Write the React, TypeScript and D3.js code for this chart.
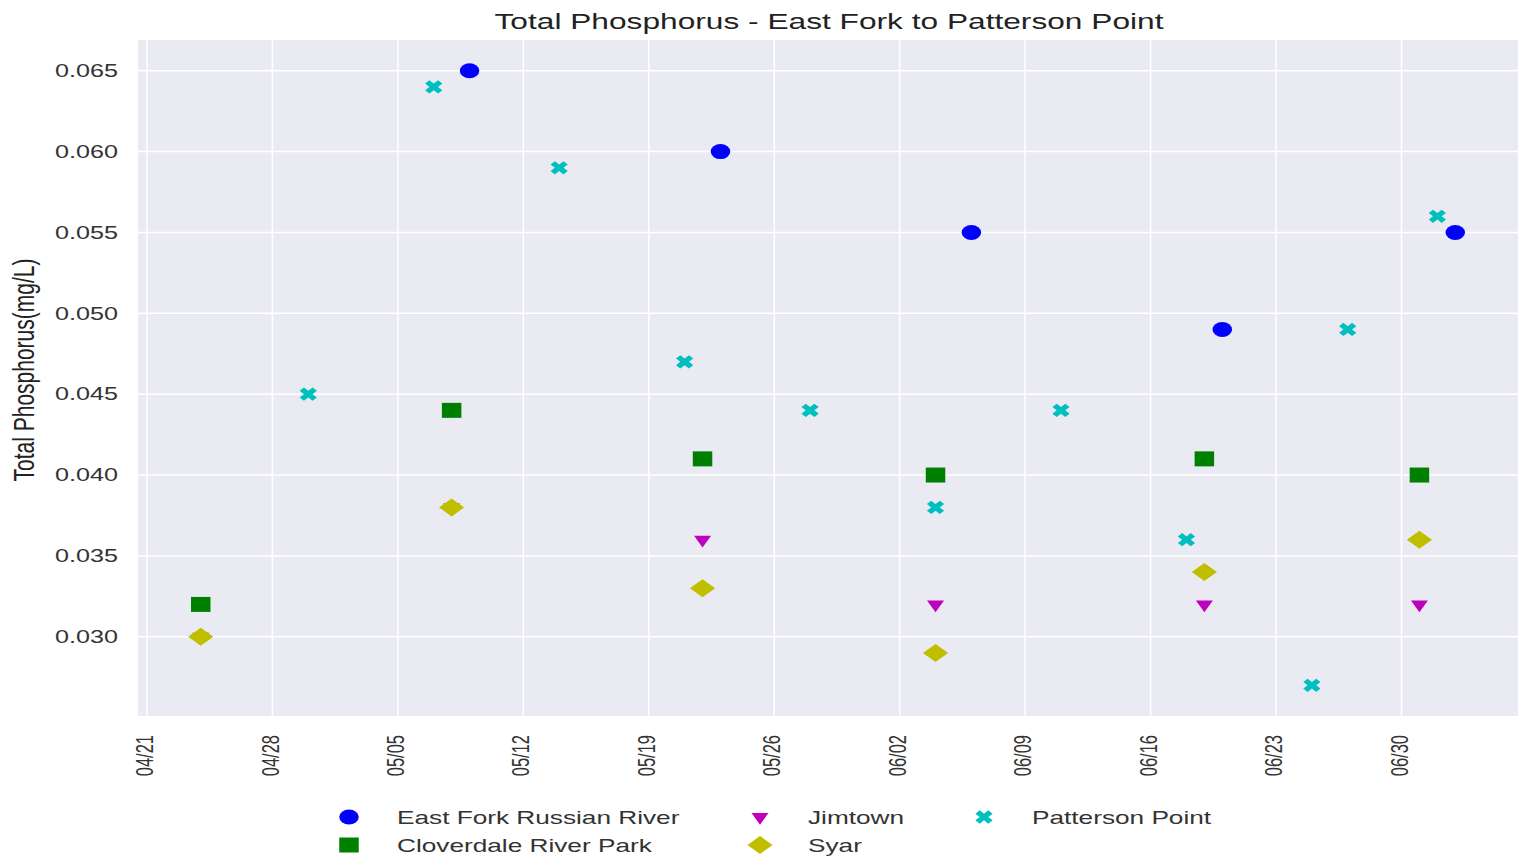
import React from "react";
import * as d3 from "d3";

const eastForkDates = ["2021-05-09", "2021-05-23", "2021-06-06", "2021-06-20", "2021-07-03"];
const eastForkValues = [0.065, 0.06, 0.055, 0.049, 0.055];

const siteDates = ["2021-04-24", "2021-05-08", "2021-05-22", "2021-06-04", "2021-06-19", "2021-07-01"];
const cloverdaleValues = [0.032, 0.044, 0.041, 0.04, 0.041, 0.04];
const jimtownValues = [0.030, 0.038, 0.036, 0.032, 0.032, 0.032];
const syarValues = [0.030, 0.038, 0.033, 0.029, 0.034, 0.036];

const pattersonDates = [
  "2021-04-30", "2021-05-07", "2021-05-14", "2021-05-21", "2021-05-28", "2021-06-04",
  "2021-06-11", "2021-06-18", "2021-06-25", "2021-06-27", "2021-07-02",
];
const pattersonValues = [0.045, 0.064, 0.059, 0.047, 0.044, 0.038, 0.044, 0.036, 0.027, 0.049, 0.056];

const xTickLabels = ["04/21", "04/28", "05/05", "05/12", "05/19", "05/26", "06/02", "06/09", "06/16", "06/23", "06/30"];
const yTicks = [0.03, 0.035, 0.04, 0.045, 0.05, 0.055, 0.06, 0.065];

const parse = d3.timeParse("%Y-%m-%d");

type Marker = "circle" | "square" | "tri" | "diamond" | "x";

const series = [
  { name: "East Fork Russian River", color: "#0000ff", marker: "circle" as Marker, dates: eastForkDates, values: eastForkValues },
  { name: "Cloverdale River Park", color: "#008000", marker: "square" as Marker, dates: siteDates, values: cloverdaleValues },
  { name: "Jimtown", color: "#bf00bf", marker: "tri" as Marker, dates: siteDates, values: jimtownValues },
  { name: "Syar", color: "#bfbf00", marker: "diamond" as Marker, dates: siteDates, values: syarValues },
  { name: "Patterson Point", color: "#00bfbf", marker: "x" as Marker, dates: pattersonDates, values: pattersonValues },
];

// the whole figure looks stretched sideways, so shapes and text get a wider x scale
const SX = 1.4;

function markerPath(m: Marker) {
  if (m === "circle") return d3.symbol(d3.symbolCircle, 177)()!;
  if (m === "square") return d3.symbol(d3.symbolSquare, 225)()!;
  if (m === "tri") return d3.symbol(d3.symbolTriangle, 80)()!;
  if (m === "diamond") return d3.symbol(d3.symbolSquare, 162)()!;
  return d3.symbol(d3.symbolCross, 110)()!;
}

function markerTransform(m: Marker, x: number, y: number) {
  if (m === "tri") return `translate(${x},${y}) scale(1.25,1) rotate(180)`;
  if (m === "diamond") return `translate(${x},${y}) scale(1.4,1) rotate(45)`;
  if (m === "x") return `translate(${x},${y}) scale(1.3,1) rotate(45)`;
  return `translate(${x},${y}) scale(1.3,1)`;
}

export default function App() {
  const width = 1523;
  const height = 865;
  const margin = { left: 138, right: 5, top: 40, bottom: 149 };

  const allDates = series.flatMap((s) => s.dates.map((d) => parse(d)!));
  const allValues = series.flatMap((s) => s.values);
  const [dMin, dMax] = d3.extent(allDates) as [Date, Date];
  const dPad = (dMax.getTime() - dMin.getTime()) * 0.05;
  const [vMin, vMax] = d3.extent(allValues) as [number, number];
  const vPad = (vMax - vMin) * 0.05;

  const x = d3
    .scaleTime()
    .domain([new Date(dMin.getTime() - dPad), new Date(dMax.getTime() + dPad)])
    .range([margin.left, width - margin.right]);
  const y = d3
    .scaleLinear()
    .domain([vMin - vPad, vMax + vPad])
    .range([height - margin.bottom, margin.top]);

  const xTicks = xTickLabels.map((t) => {
    const [mm, dd] = t.split("/");
    return parse(`2021-${mm}-${dd}`)!;
  });

  const legendCols = [
    { mx: 349, tx: 397 },
    { mx: 760, tx: 808 },
    { mx: 984, tx: 1032 },
  ];
  const legendRows = [817, 845];

  return (
    <svg width={width} height={height} style={{ position: "absolute", left: 0, top: 0, fontFamily: "'Liberation Sans', Arial, sans-serif" }}>
      <rect x={0} y={0} width={width} height={height} fill="#fff" />
      <rect
        x={margin.left}
        y={margin.top}
        width={width - margin.left - margin.right}
        height={height - margin.top - margin.bottom}
        fill="#eaeaf2"
      />
      {yTicks.map((t) => (
        <g key={t}>
          <line x1={margin.left} x2={width - margin.right} y1={y(t)} y2={y(t)} stroke="#fff" strokeWidth={1.5} />
          <text transform={`translate(118,${y(t)}) scale(${SX},1)`} dy="0.35em" textAnchor="end" fontSize={18} fill="#333">
            {d3.format(".3f")(t)}
          </text>
        </g>
      ))}
      {xTicks.map((t, i) => (
        <g key={i}>
          <line x1={x(t)} x2={x(t)} y1={margin.top} y2={height - margin.bottom} stroke="#fff" strokeWidth={1.5} />
          <text
            transform={`translate(${x(t) - 2},${height - margin.bottom + 19}) scale(${SX},1) rotate(-90)`}
            dy="0.35em"
            textAnchor="end"
            fontSize={16.5}
            fill="#333"
          >
            {xTickLabels[i]}
          </text>
        </g>
      ))}
      {series.map((s) =>
        s.values.map((v, i) => (
          <path
            key={s.name + i}
            d={markerPath(s.marker)}
            transform={markerTransform(s.marker, x(parse(s.dates[i])!), y(v))}
            fill={s.color}
          />
        ))
      )}
      <text transform={`translate(829,29) scale(1.44,1)`} textAnchor="middle" fontSize={22} fill="#222">
        Total Phosphorus - East Fork to Patterson Point
      </text>
      <text
        transform={`translate(34,370) scale(${SX},1) rotate(-90)`}
        textAnchor="middle"
        fontSize={21}
        fill="#222"
      >
        Total Phosphorus(mg/L)
      </text>
      {series.map((s, i) => {
        const col = legendCols[Math.floor(i / 2)];
        const row = legendRows[i % 2];
        return (
          <g key={s.name}>
            <path d={markerPath(s.marker)} transform={markerTransform(s.marker, col.mx, row)} fill={s.color} />
            <text transform={`translate(${col.tx},${row}) scale(1.38,1)`} dy="0.35em" fontSize={19} fill="#333">
              {s.name}
            </text>
          </g>
        );
      })}
    </svg>
  );
}
